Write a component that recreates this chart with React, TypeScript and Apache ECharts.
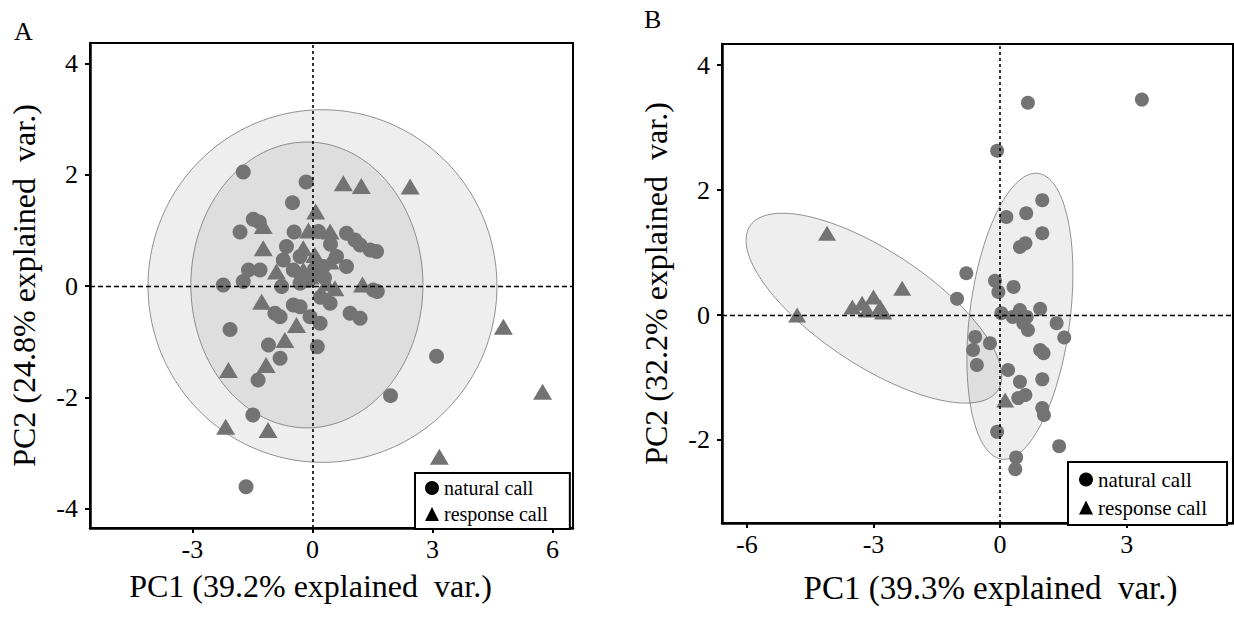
import React, { useEffect, useRef } from "react";
import * as echarts from "echarts";

// ---------- Data ----------
const A_X_TICKS = [-3, 0, 3, 6];
const A_Y_TICKS = [-4, -2, 0, 2, 4];
const B_X_TICKS = [-6, -3, 0, 3];
const B_Y_TICKS = [-2, 0, 2, 4];

const A_X_NAME = "PC1 (39.2% explained  var.)";
const A_Y_NAME = "PC2 (24.8% explained  var.)";
const B_X_NAME = "PC1 (39.3% explained  var.)";
const B_Y_NAME = "PC2 (32.2% explained  var.)";

const SERIES_NAMES = ["natural call", "response call"];

// Panel A points [PC1, PC2]
const A_NATURAL = [
  [-1.73, 2.05], [-0.16, 1.87], [-0.5, 1.5], [-1.48, 1.2], [-1.33, 1.15], [-1.81, 0.97],
  [-0.46, 0.97], [0.15, 0.98], [0.85, 0.95], [1.06, 0.83], [1.19, 0.74], [1.44, 0.65],
  [1.6, 0.62], [-0.65, 0.71], [-0.31, 0.53], [0.6, 0.53], [0.85, 0.35], [-1.6, 0.29],
  [-1.31, 0.29], [-0.73, 0.47], [-0.48, 0.29], [0.27, 0.35], [-2.23, 0.02], [-1.73, 0.08],
  [-0.77, -0.01], [-0.31, 0.05], [1.52, -0.07], [1.62, -0.1], [-0.48, -0.34], [-0.31, -0.37],
  [0.44, -0.31], [-0.94, -0.49], [-0.81, -0.55], [0.94, -0.49], [1.19, -0.58], [-0.06, -0.55],
  [0.19, -0.67], [-2.06, -0.78], [-1.1, -1.06], [0.12, -1.09], [-0.81, -1.3], [-1.36, -1.69],
  [-1.49, -2.32], [-1.66, -3.61], [3.1, -1.26], [1.95, -1.97], [0.05, 0.3], [0.3, 0.15],
  [-0.1, 0.1], [0.2, -0.2], [0.45, 0.75],
];
const A_RESPONSE = [
  [0.77, 1.85], [1.22, 1.8], [2.44, 1.79], [0.08, 1.34], [-1.23, 1.08], [-0.1, 1.0],
  [0.44, 0.98], [-1.23, 0.68], [-0.23, 0.68], [0.06, 0.56], [0.44, 0.44], [-0.9, 0.26],
  [-0.23, 0.29], [0.19, 0.23], [-0.06, 0.17], [0.35, 0.05], [0.56, -0.04], [1.25, 0.03],
  [-1.27, -0.28], [-0.4, -0.7], [-0.69, -0.97], [-1.16, -1.42], [-2.1, -1.51], [-2.17, -2.53],
  [-1.11, -2.59], [4.77, -0.73], [5.75, -1.9], [3.17, -3.07],
];

// Panel B points
const B_NATURAL = [
  [0.66, 3.4], [3.36, 3.45], [-0.07, 2.63], [1.0, 1.84], [0.15, 1.57], [0.62, 1.63],
  [1.0, 1.31], [0.47, 1.09], [0.6, 1.15], [-0.8, 0.67], [-1.02, 0.26], [-0.12, 0.55],
  [0.32, 0.45], [-0.04, 0.37], [0.03, 0.03], [0.47, 0.08], [0.63, -0.03], [0.55, -0.13],
  [0.66, -0.24], [0.3, -0.03], [0.95, 0.1], [1.34, -0.13], [1.52, -0.36], [0.95, -0.56],
  [1.03, -0.61], [-0.59, -0.35], [-0.64, -0.56], [-0.55, -0.8], [-0.24, -0.45], [0.19, -0.88],
  [0.47, -1.07], [0.43, -1.33], [0.6, -1.28], [1.0, -1.03], [1.0, -1.49], [1.04, -1.6],
  [-0.07, -1.87], [1.4, -2.1], [0.38, -2.28], [0.36, -2.47],
];
const B_RESPONSE = [
  [-4.1, 1.31], [-4.81, 0.0], [-2.32, 0.43], [-3.5, 0.13], [-3.27, 0.19], [-3.0, 0.29],
  [-2.84, 0.13], [-3.15, 0.08], [-2.77, 0.05], [0.12, -1.36],
];

// Confidence ellipses: [centerX, centerY, sdX, sdY, correlation]
const A_ELLIPSES = [
  [0.25, 0.0, 4.36, 3.17, 0.0],
  [-0.14, 0.02, 2.9, 2.57, 0.0],
];
const B_ELLIPSES = [
  [-2.99, 0.11, 3.03, 1.52, -0.716],
  [0.47, -0.02, 1.256, 2.29, 0.3],
];

// ---------- Styling ----------
const FONT = "'Liberation Serif', 'Times New Roman', serif";
const POINT_COLOR = "#737373";

function ellipseSeries(data: number[][], idx: number) {
  return {
    type: "custom",
    xAxisIndex: idx,
    yAxisIndex: idx,
    z: 1,
    silent: true,
    data,
    renderItem: (_params: any, api: any) => {
      const cx = api.value(0);
      const cy = api.value(1);
      const sx = api.value(2);
      const sy = api.value(3);
      const r = api.value(4);
      const pts: number[][] = [];
      const n = 180;
      for (let i = 0; i <= n; i++) {
        const t = (i / n) * Math.PI * 2;
        const x = cx + sx * Math.cos(t);
        const y = cy + sy * (r * Math.cos(t) + Math.sqrt(1 - r * r) * Math.sin(t));
        pts.push(api.coord([x, y]));
      }
      return {
        type: "polygon",
        shape: { points: pts },
        style: { fill: "rgba(0,0,0,0.065)", stroke: "rgba(110,110,110,0.75)", lineWidth: 1 },
      };
    },
  };
}

function zeroLines(idx: number) {
  return {
    type: "line",
    xAxisIndex: idx,
    yAxisIndex: idx,
    data: [],
    z: 5,
    silent: true,
    markLine: {
      silent: true,
      symbol: "none",
      animation: false,
      label: { show: false },
      data: [
        { xAxis: 0, lineStyle: { type: [3, 3], color: "#000", width: 1.6 } },
        { yAxis: 0, lineStyle: { type: [5, 3], color: "#000", width: 1.4 } },
      ],
    },
  };
}

function scatter(name: string, data: number[][], idx: number, symbol: string, size: any) {
  return {
    type: "scatter",
    name,
    xAxisIndex: idx,
    yAxisIndex: idx,
    data,
    symbol,
    symbolSize: size,
    z: 3,
    itemStyle: { color: POINT_COLOR, opacity: 1 },
  };
}

function xAxis(idx: number, min: number, max: number, ticks: number[], name: string, gap: number, fontSize: number, pad: number[]) {
  return {
    type: "value",
    gridIndex: idx,
    min,
    max,
    name,
    nameLocation: "middle",
    nameGap: gap,
    nameTextStyle: { fontFamily: FONT, fontSize, color: "#000", padding: pad },
    axisLine: { show: true, onZero: false, lineStyle: { color: "#000", width: 2.5 } },
    axisTick: { show: true, length: 5, customValues: ticks, lineStyle: { color: "#000", width: 2 } },
    axisLabel: { customValues: ticks, fontFamily: FONT, fontSize: 26, color: "#000", margin: 8 },
    splitLine: { show: false },
  };
}

function yAxis(idx: number, min: number, max: number, ticks: number[], name: string, gap: number) {
  return {
    type: "value",
    gridIndex: idx,
    min,
    max,
    name,
    nameLocation: "middle",
    nameGap: gap,
    nameRotate: 90,
    nameTextStyle: { fontFamily: FONT, fontSize: 32, color: "#000" },
    axisLine: { show: true, onZero: false, lineStyle: { color: "#000", width: 2.5 } },
    axisTick: { show: true, length: 5, customValues: ticks, lineStyle: { color: "#000", width: 2 } },
    axisLabel: { customValues: ticks, fontFamily: FONT, fontSize: 26, color: "#000", margin: 12 },
    splitLine: { show: false },
  };
}

function legend(left: number, top: number, fontSize: number, padding: number[], gap: number) {
  return {
    left,
    top,
    orient: "vertical",
    backgroundColor: "#fff",
    borderColor: "#000",
    borderWidth: 2,
    borderRadius: 0,
    padding,
    itemGap: gap,
    itemWidth: 14,
    itemHeight: 14,
    selectedMode: false,
    textStyle: { fontFamily: FONT, fontSize, color: "#000" },
    data: [
      { name: SERIES_NAMES[0], icon: "circle", itemStyle: { color: "#000" } },
      { name: SERIES_NAMES[1], icon: "triangle", itemStyle: { color: "#000" } },
    ],
  };
}

export default function App() {
  const ref = useRef<HTMLDivElement>(null);
  useEffect(() => {
    if (!ref.current) return;
    const chart = echarts.init(ref.current, undefined, { renderer: "svg" });
    chart.setOption({
      animation: false,
      backgroundColor: "#fff",
      grid: [
        { left: 90, top: 43, width: 483, height: 485, show: true, borderColor: "#000", borderWidth: 2, backgroundColor: "transparent" },
        { left: 722, top: 44, width: 511, height: 479, show: true, borderColor: "#000", borderWidth: 2, backgroundColor: "transparent" },
      ],
      xAxis: [
        xAxis(0, -5.56, 6.51, A_X_TICKS, A_X_NAME, 42, 32, [0, 42, 0, 0]),
        xAxis(1, -6.59, 5.52, B_X_TICKS, B_X_NAME, 48, 33, [0, 0, 0, 26]),
      ],
      yAxis: [
        yAxis(0, -4.35, 4.37, A_Y_TICKS, A_Y_NAME, 50),
        yAxis(1, -3.33, 4.34, B_Y_TICKS, B_Y_NAME, 50),
      ],
      legend: [
        legend(415, 473, 20, [5, 22, 5, 10], 6),
        legend(1068, 462, 21, [7, 20, 7, 11], 7),
      ],
      graphic: [
        { type: "text", left: 14, top: 18, style: { text: "A", font: `26px ${FONT}`, fill: "#000" } },
        { type: "text", left: 644, top: 6, style: { text: "B", font: `26px ${FONT}`, fill: "#000" } },
      ],
      series: [
        ellipseSeries(A_ELLIPSES, 0),
        ellipseSeries(B_ELLIPSES, 1),
        scatter(SERIES_NAMES[0], A_NATURAL, 0, "circle", 15),
        scatter(SERIES_NAMES[1], A_RESPONSE, 0, "triangle", [19, 16]),
        scatter(SERIES_NAMES[0], B_NATURAL, 1, "circle", 14),
        scatter(SERIES_NAMES[1], B_RESPONSE, 1, "triangle", [18, 15]),
        zeroLines(0),
        zeroLines(1),
      ],
    });
    return () => chart.dispose();
  }, []);
  return <div ref={ref} style={{ position: "fixed", left: 0, top: 0, width: 1234, height: 617 }} />;
}
